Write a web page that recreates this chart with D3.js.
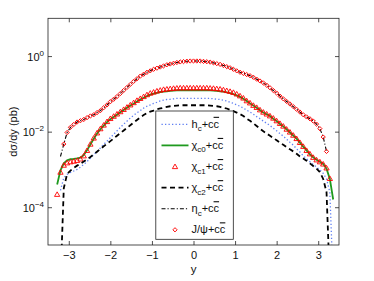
<!DOCTYPE html>
<html>
<head>
<meta charset="utf-8">
<script src="https://cdn.jsdelivr.net/npm/d3@7"></script>
<style>
body { margin: 0; background: #fff; }
svg text { font-family: "Liberation Sans", Arial, Helvetica, sans-serif; fill: #111; }
</style>
</head>
<body>
<svg id="chart" width="374" height="281"></svg>
<script>
// rapidity grid shared by all curves
const rapidity = [
  -3.28, -3.20, -3.12, -3.04, -2.96, -2.88, -2.80, -2.72, -2.64, -2.56,
  -2.48, -2.40, -2.32, -2.24, -2.16, -2.08, -2.00, -1.92, -1.84, -1.76,
  -1.68, -1.60, -1.52, -1.44, -1.36, -1.28, -1.20, -1.12, -1.04, -0.96,
  -0.88, -0.80, -0.72, -0.64, -0.56, -0.48, -0.40, -0.32, -0.24, -0.16,
  -0.08, 0, 0.08, 0.16, 0.24, 0.32, 0.40, 0.48, 0.56, 0.64,
  0.72, 0.80, 0.88, 0.96, 1.04, 1.12, 1.20, 1.28, 1.36, 1.44,
  1.52, 1.60, 1.68, 1.76, 1.84, 1.92, 2.00, 2.08, 2.16, 2.24,
  2.32, 2.40, 2.48, 2.56, 2.64, 2.72, 2.80, 2.88, 2.96, 3.04,
  3.12, 3.20, 3.28, 3.36
];

// dsigma/dy in pb
const hcVals = [
  null, 2.8e-4, 6.0e-4, 7.4e-4, 8.3e-4, 9.1e-4, 1.0e-3, 1.15e-3, 1.35e-3, 1.62e-3,
  2.0e-3, 2.45e-3, 3.0e-3, 3.7e-3, 4.6e-3, 5.6e-3, 6.9e-3, 8.5e-3, 0.0105, 0.0129,
  0.0158, 0.019, 0.023, 0.027, 0.0316, 0.036, 0.042, 0.047, 0.051, 0.056,
  0.060, 0.065, 0.068, 0.071, 0.072, 0.074, 0.076, 0.076, 0.076, 0.076,
  0.076, 0.076, 0.076, 0.076, 0.076, 0.076, 0.076, 0.074, 0.072, 0.071,
  0.068, 0.065, 0.060, 0.056, 0.051, 0.047, 0.042, 0.037, 0.033, 0.029,
  0.025, 0.022, 0.019, 0.0166, 0.0145, 0.0123, 0.0105, 0.0089, 0.0076, 0.0063,
  0.0052, 0.0044, 0.0035, 0.0029, 0.0023, 0.0019, 0.0016, 0.00135, 0.00115, 0.00098,
  0.00079, 0.00056, 0.00025, 1e-6
];
const chic0Vals = [
  4.0e-4, 9.5e-4, 1.45e-3, 1.74e-3, 1.86e-3, 1.9e-3, 1.95e-3, 2.04e-3, 2.4e-3, 3.24e-3,
  4.57e-3, 6.46e-3, 8.9e-3, 0.0115, 0.0145, 0.0178, 0.0214, 0.0245, 0.0282, 0.0324,
  0.0372, 0.0427, 0.049, 0.055, 0.063, 0.071, 0.079, 0.087, 0.095, 0.102,
  0.107, 0.112, 0.115, 0.117, 0.120, 0.122, 0.123, 0.123, 0.123, 0.123,
  0.123, 0.123, 0.123, 0.123, 0.123, 0.123, 0.123, 0.122, 0.120, 0.117,
  0.115, 0.110, 0.105, 0.098, 0.091, 0.083, 0.074, 0.065, 0.056, 0.049,
  0.043, 0.037, 0.032, 0.029, 0.026, 0.022, 0.019, 0.016, 0.0138, 0.0115,
  0.0095, 0.0079, 0.0065, 0.0051, 0.0040, 0.0032, 0.0025, 0.0021, 0.0018, 0.0016,
  0.0014, 0.00105, 0.00056, 0.00016
];
const chic1Vals = [
  2.2e-4, 8.5e-4, 1.3e-3, 1.5e-3, 1.6e-3, 1.66e-3, 1.74e-3, 1.9e-3, 2.3e-3, 3.2e-3,
  4.7e-3, 6.8e-3, 9.3e-3, 0.012, 0.015, 0.0186, 0.0224, 0.0257, 0.0295, 0.0339,
  0.0389, 0.0447, 0.0513, 0.0589, 0.0676, 0.0759, 0.0851, 0.0955, 0.105, 0.112,
  0.120, 0.126, 0.132, 0.135, 0.138, 0.141, 0.143, 0.145, 0.145, 0.145,
  0.145, 0.145, 0.145, 0.145, 0.145, 0.145, 0.143, 0.141, 0.138, 0.135,
  0.129, 0.123, 0.117, 0.110, 0.100, 0.089, 0.078, 0.066, 0.058, 0.050,
  0.044, 0.038, 0.033, 0.0295, 0.0263, 0.0229, 0.0195, 0.0166, 0.0141, 0.0117,
  0.0098, 0.0081, 0.0066, 0.0052, 0.0041, 0.0032, 0.0026, 0.0021, 0.0018, 0.0016,
  0.0014, 0.0011, 0.00058, null
];
const chic2Vals = [
  null, 1e-6, 3.2e-4, 7.6e-4, 9.3e-4, 1.1e-3, 1.26e-3, 1.41e-3, 1.62e-3, 1.86e-3,
  2.14e-3, 2.5e-3, 2.95e-3, 3.5e-3, 4.1e-3, 4.8e-3, 5.6e-3, 6.6e-3, 7.8e-3, 9.1e-3,
  0.0107, 0.0126, 0.0148, 0.0174, 0.0204, 0.024, 0.0275, 0.031, 0.034, 0.036,
  0.039, 0.041, 0.043, 0.045, 0.047, 0.048, 0.049, 0.050, 0.050, 0.050,
  0.050, 0.050, 0.050, 0.050, 0.050, 0.050, 0.049, 0.048, 0.047, 0.045,
  0.043, 0.041, 0.038, 0.035, 0.032, 0.029, 0.026, 0.022, 0.0195, 0.0166,
  0.0141, 0.012, 0.0102, 0.0089, 0.0078, 0.0068, 0.0059, 0.0051, 0.0045, 0.0039,
  0.0034, 0.0030, 0.0026, 0.0022, 0.00195, 0.0017, 0.00145, 0.00123, 0.00105, 0.00085,
  0.00056, 0.00025, 1e-6, null
];
const etacVals = [
  null, 0.0022, 0.0047, 0.0095, 0.013, 0.0155, 0.018, 0.0195, 0.021, 0.0235,
  0.026, 0.028, 0.032, 0.036, 0.043, 0.051, 0.062, 0.072, 0.085, 0.102,
  0.123, 0.148, 0.178, 0.214, 0.251, 0.295, 0.331, 0.372, 0.407, 0.447,
  0.479, 0.513, 0.550, 0.589, 0.617, 0.646, 0.676, 0.700, 0.716, 0.733,
  0.741, 0.741, 0.741, 0.741, 0.724, 0.708, 0.692, 0.661, 0.631, 0.603,
  0.562, 0.525, 0.490, 0.447, 0.407, 0.372, 0.347, 0.324, 0.302, 0.275,
  0.245, 0.219, 0.195, 0.170, 0.145, 0.123, 0.105, 0.087, 0.074, 0.063,
  0.054, 0.046, 0.039, 0.033, 0.028, 0.0245, 0.0219, 0.0191, 0.0158, 0.0120,
  0.0072, 0.0030, null, null
];
const jpsiVals = [
  null, null, 0.0047, 0.0095, 0.013, 0.0155, 0.018, 0.0195, 0.021, 0.0235,
  0.026, 0.028, 0.032, 0.036, 0.043, 0.051, 0.062, 0.072, 0.085, 0.102,
  0.123, 0.148, 0.178, 0.214, 0.251, 0.295, 0.331, 0.372, 0.407, 0.447,
  0.479, 0.513, 0.550, 0.589, 0.617, 0.646, 0.676, 0.700, 0.716, 0.733,
  0.741, 0.741, 0.741, 0.741, 0.724, 0.708, 0.692, 0.661, 0.631, 0.603,
  0.562, 0.525, 0.490, 0.447, 0.407, 0.372, 0.347, 0.324, 0.302, 0.275,
  0.245, 0.219, 0.195, 0.170, 0.145, 0.123, 0.105, 0.087, 0.074, 0.063,
  0.054, 0.046, 0.039, 0.033, 0.028, 0.0245, 0.0219, 0.0191, 0.0158, 0.0120,
  0.0072, 0.0030, null, null
];

const xTicks = [-3, -2, -1, 0, 1, 2, 3];
const yTicks = [1e-4, 1e-2, 1];
const yTickExp = ["\u22124", "\u22122", "0"];

// legend text: main symbol, subscript
const legendMain = ["h", "\u03c7", "\u03c7", "\u03c7", "\u03b7", "J/\u03c8"];
const legendSub = ["c", "c0", "c1", "c2", "c", ""];

const svg = d3.select("#chart");
const L = 48, R = 339, T = 18.3, B = 245;

const x = d3.scaleLinear().domain([-3.5, 3.5]).range([L, R]);
const y = d3.scaleLog().domain([1e-5, 10]).range([B, T]);

svg.append("defs").append("clipPath").attr("id", "plotclip")
  .append("rect").attr("x", L).attr("y", T).attr("width", R - L).attr("height", B - T);

// series styles (drawn in legend order)
const series = [
  { vals: hcVals, stroke: "#5f7ff2", width: 1.3, dash: "1.3,2.2" },
  { vals: chic0Vals, stroke: "#1f9a1f", width: 1.8, dash: null },
  { vals: chic1Vals, stroke: "red", marker: "tri" },
  { vals: chic2Vals, stroke: "#000", width: 1.8, dash: "5,3.5" },
  { vals: etacVals, stroke: "#000", width: 1.1, dash: "4,2,1.2,2" },
  { vals: jpsiVals, stroke: "red", marker: "dia" }
];

const line = d3.line()
  .defined(d => d[1] != null)
  .x(d => x(d[0]))
  .y(d => y(d[1]));

const plot = svg.append("g").attr("clip-path", "url(#plotclip)");

const triSym = d3.symbol().type(d3.symbolTriangle).size(12);
const diaSym = d3.symbol().type(d3.symbolSquare).size(9);

function drawMarker(sel, kind) {
  if (kind === "tri") {
    sel.attr("d", triSym).attr("transform", d => `translate(${d[0]},${d[1] + 0.6})`);
  } else {
    sel.attr("d", diaSym).attr("transform", d => `translate(${d[0]},${d[1]}) rotate(45)`);
  }
}

series.forEach(s => {
  const pts = rapidity.map((r, i) => [r, s.vals[i]]);
  if (s.marker) {
    const mk = plot.append("g").selectAll("path")
      .data(pts.filter(d => d[1] != null).map(d => [x(d[0]), y(d[1])]))
      .join("path")
      .attr("fill", "none")
      .attr("stroke", s.stroke)
      .attr("stroke-width", 0.9);
    drawMarker(mk, s.marker);
  } else {
    plot.append("path")
      .datum(pts)
      .attr("fill", "none")
      .attr("stroke", s.stroke)
      .attr("stroke-width", s.width)
      .attr("stroke-dasharray", s.dash)
      .attr("d", line);
  }
});

// axes
const axisFont = 11;
const xFmt = d => d < 0 ? "\u2212" + Math.abs(d) : String(d);

const gx = svg.append("g").attr("transform", `translate(0,${B})`)
  .call(d3.axisBottom(x).tickValues(xTicks).tickSizeInner(-4).tickSizeOuter(0).tickPadding(6).tickFormat(xFmt));
gx.selectAll("text").attr("font-size", axisFont);

const gxt = svg.append("g").attr("transform", `translate(0,${T})`)
  .call(d3.axisTop(x).tickValues(xTicks).tickSizeInner(-4).tickSizeOuter(0).tickFormat(""));

const gy = svg.append("g").attr("transform", `translate(${L},0)`)
  .call(d3.axisLeft(y).tickValues(yTicks).tickSizeInner(-4).tickSizeOuter(0).tickFormat(""));

const gyr = svg.append("g").attr("transform", `translate(${R},0)`)
  .call(d3.axisRight(y).tickValues(yTicks).tickSizeInner(-4).tickSizeOuter(0).tickFormat(""));

[gx, gxt, gy, gyr].forEach(g => {
  g.select(".domain").remove();
  g.selectAll("line").attr("stroke", "#222").attr("stroke-width", 0.8);
});

// y tick labels with exponent
yTicks.forEach((t, i) => {
  const tx = svg.append("text")
    .attr("x", L - 4)
    .attr("y", y(t) + 4.5)
    .attr("text-anchor", "end")
    .attr("font-size", axisFont);
  tx.append("tspan").text("10");
  tx.append("tspan").attr("dy", -5).attr("font-size", 8).text(yTickExp[i]);
});

// plot frame
svg.append("rect")
  .attr("x", L).attr("y", T).attr("width", R - L).attr("height", B - T)
  .attr("fill", "none").attr("stroke", "#222").attr("stroke-width", 0.8);

// axis titles
svg.append("text")
  .attr("x", (L + R) / 2).attr("y", 273)
  .attr("text-anchor", "middle")
  .attr("font-size", 11.5)
  .text("y");

svg.append("text")
  .attr("transform", `translate(17,${(T + B) / 2}) rotate(-90)`)
  .attr("text-anchor", "middle")
  .attr("font-size", 11)
  .text("d\u03c3/dy (pb)");

// legend
const lg = svg.append("g");
const lgX0 = 155.8, lgX1 = 233.3, lgY0 = 111, lgY1 = 239.3;
lg.append("rect")
  .attr("x", lgX0).attr("y", lgY0).attr("width", lgX1 - lgX0).attr("height", lgY1 - lgY0)
  .attr("fill", "#fff").attr("stroke", "#222").attr("stroke-width", 0.8);

const rowY = i => 124.3 + i * 21.1;
series.forEach((s, i) => {
  const yy = rowY(i);
  if (s.marker) {
    const mk = lg.append("path").datum([175, yy])
      .attr("fill", "none").attr("stroke", s.stroke).attr("stroke-width", 0.9);
    drawMarker(mk, s.marker);
  } else {
    lg.append("line")
      .attr("x1", 161.5).attr("x2", 188.5).attr("y1", yy).attr("y2", yy)
      .attr("stroke", s.stroke).attr("stroke-width", s.width)
      .attr("stroke-dasharray", s.dash);
  }
  const t = lg.append("text").attr("x", 191.5).attr("y", yy + 3.5).attr("font-size", 11);
  t.append("tspan").text(legendMain[i]);
  if (legendSub[i]) {
    t.append("tspan").attr("dy", 3.5).attr("font-size", 8).text(legendSub[i]);
    t.append("tspan").attr("dy", -3.5).text("+c");
  } else {
    t.append("tspan").text("+c");
  }
  t.append("tspan").style("text-decoration", "overline").text("c");
});
</script>
</body>
</html>
